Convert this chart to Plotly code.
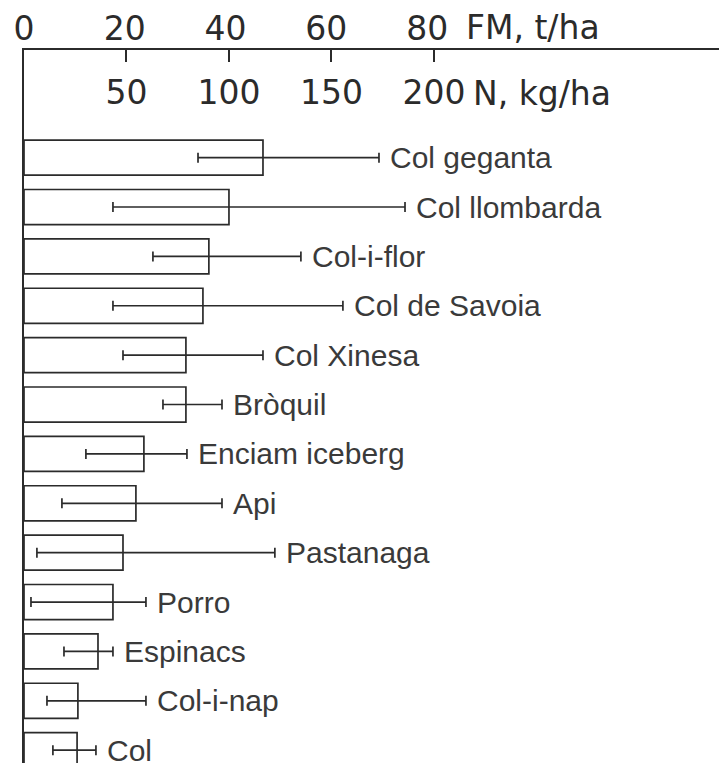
import plotly.graph_objects as go

crops = ["Col geganta", "Col llombarda", "Col-i-flor", "Col de Savoia", "Col Xinesa",
         "Bròquil", "Enciam iceberg", "Api", "Pastanaga", "Porro", "Espinacs",
         "Col-i-nap", "Col"]
n_kg = [116.6, 100.0, 90.2, 87.3, 79.0, 79.0, 58.5, 54.6, 48.3, 43.4, 36.1, 26.3, 25.9]
range_lo = [84.9, 43.4, 62.9, 43.4, 48.3, 67.8, 30.2, 18.5, 6.3, 3.4, 19.5, 11.2, 14.1]
range_hi = [173.2, 185.9, 135.1, 155.6, 116.6, 96.6, 79.5, 96.6, 122.4, 59.5, 43.4, 59.5, 35.1]

n_ticks = [50, 100, 150, 200]
fm_ticks = [0, 20, 40, 60, 80]
n_unit = "N, kg/ha"
fm_unit = "FM, t/ha"

INK = "#2b2b2b"
AXFONT = dict(family="DejaVu Sans, Liberation Sans, sans-serif", size=33, color=INK)
LBLFONT = dict(family="Liberation Sans, Arial, Helvetica, sans-serif", size=30, color="#3a3a3a")

fig = go.Figure()
fig.add_trace(go.Bar(
    x=n_kg, y=crops, orientation="h", base=0, width=0.71,
    marker=dict(color="white", line=dict(color=INK, width=1.7)),
    error_x=dict(type="data", symmetric=False,
                 array=[h - v for h, v in zip(range_hi, n_kg)],
                 arrayminus=[v - l for l, v in zip(range_lo, n_kg)],
                 color=INK, thickness=1.7, width=5),
    showlegend=False, hoverinfo="skip",
))

annotations = []
for c, h in zip(crops, range_hi):
    annotations.append(dict(x=h, y=c, xref="x", yref="y", text=c, showarrow=False,
                            xanchor="left", yanchor="middle", xshift=9, font=LBLFONT))
annotations.append(dict(x=n_ticks[-1], y=1, xref="x", yref="paper", text=n_unit,
                        showarrow=False, xanchor="left", yanchor="middle",
                        xshift=37, yshift=-43, font=AXFONT))
annotations.append(dict(x=fm_ticks[-1], y=1, xref="x2", yref="paper", text=fm_unit,
                        showarrow=False, xanchor="left", yanchor="middle",
                        xshift=37, yshift=23, font=AXFONT))

fig.update_layout(
    width=719, height=759, autosize=False,
    margin=dict(l=16, r=0, t=42, b=4, pad=0),
    paper_bgcolor="white", plot_bgcolor="white",
    annotations=annotations,
    xaxis=dict(range=[0, 343], side="top", showline=True, linecolor=INK, linewidth=1.6,
               ticks="inside", ticklen=12, tickwidth=2, tickcolor=INK,
               tickvals=n_ticks, ticktext=[str(t) for t in n_ticks],
               ticklabelposition="inside", ticklabelstandoff=23, automargin=False,
               tickfont=AXFONT, showgrid=False, zeroline=False),
    xaxis2=dict(range=[0, 139.5], overlaying="x", side="top", anchor="y",
                showline=False, ticks="", tickvals=fm_ticks, automargin=False,
                ticktext=[str(t) for t in fm_ticks], ticklabelstandoff=2,
                tickfont=AXFONT, showgrid=False, zeroline=False),
    xaxis3=dict(range=[0, 343], overlaying="x", side="bottom", anchor="y",
                showline=True, linecolor="#9a9a9a", linewidth=1.2, automargin=False,
                showticklabels=False, ticks="", showgrid=False, zeroline=False),
    yaxis=dict(type="category", categoryorder="array", categoryarray=crops,
               range=[12.26, -2.18], showline=True, linecolor=INK, linewidth=1.8,
               automargin=False,
               showticklabels=False, ticks="", showgrid=False, zeroline=False),
    yaxis2=dict(range=[0, 1], overlaying="y", side="right", anchor="x",
                showline=True, linecolor="#e2e2e2", linewidth=1, automargin=False,
                showticklabels=False, ticks="", showgrid=False, zeroline=False),
)

fig.write_html("out.html")
